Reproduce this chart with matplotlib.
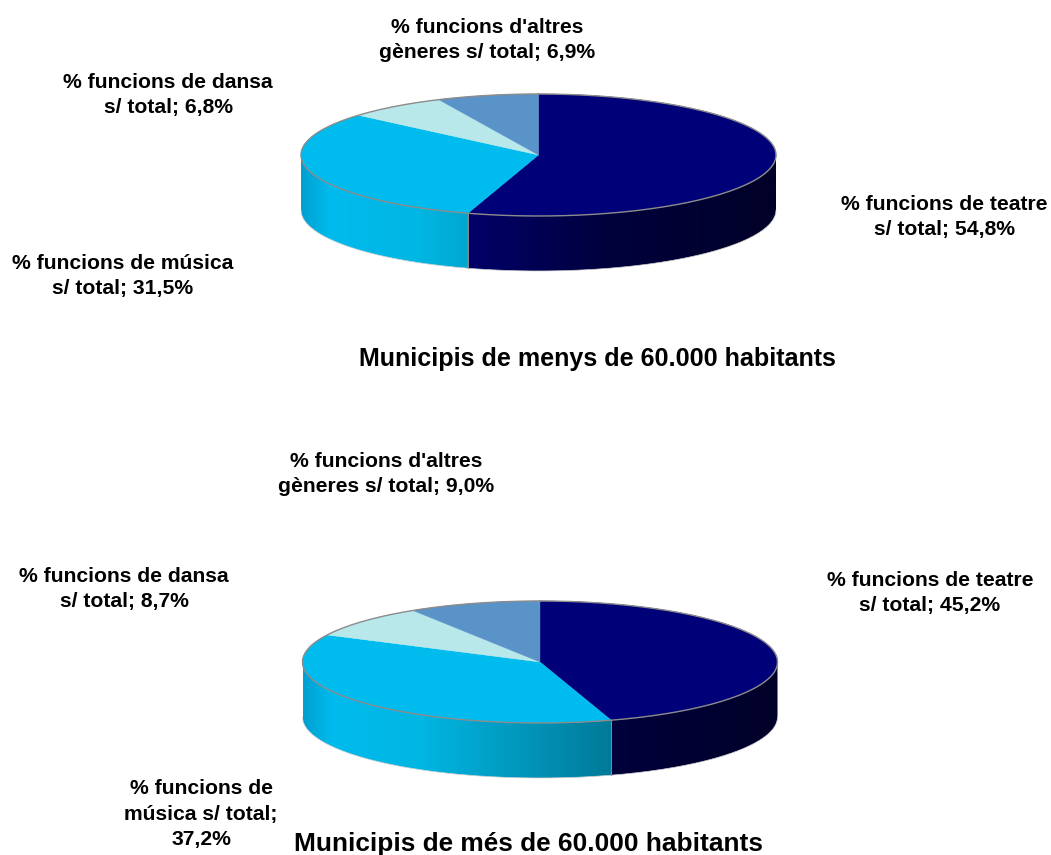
import numpy as np
import matplotlib
matplotlib.use("Agg")
import matplotlib.pyplot as plt
from matplotlib.colors import LinearSegmentedColormap
from matplotlib.patches import Polygon

plt.rcParams["font.family"] = ["Liberation Sans", "DejaVu Sans"]

# data
genres = ["teatre", "música", "dansa", "altres"]
small_towns = [54.8, 31.5, 6.8, 6.9]
big_towns = [45.2, 37.2, 8.7, 9.0]
title_small = "Municipis de menys de 60.000 habitants"
title_big = "Municipis de més de 60.000 habitants"
labels_small = [
    "% funcions de teatre\ns/ total; 54,8%",
    "% funcions de música\ns/ total; 31,5%",
    "% funcions de dansa\ns/ total; 6,8%",
    "% funcions d'altres\ngèneres s/ total; 6,9%",
]
labels_big = [
    "% funcions de teatre\ns/ total; 45,2%",
    "% funcions de\nmúsica s/ total;\n37,2%",
    "% funcions de dansa\ns/ total; 8,7%",
    "% funcions d'altres\ngèneres s/ total; 9,0%",
]

# styles
TOP = ["#000078", "#00BBEE", "#B9E8EA", "#5A93C8"]
SIDE = [
    [(0, "#00007C"), (0.35, "#00006A"), (0.65, "#00003C"), (1, "#000028")],
    [(0, "#00A0D0"), (0.06, "#00BBEE"), (0.25, "#00B6E2"), (0.65, "#007A98"), (1, "#005A70")],
    [(0, "#B9E8EA"), (1, "#B9E8EA")],
    [(0, "#5A93C8"), (1, "#5A93C8")],
]
EDGE = "#8C8C8C"
RX, RY, DEPTH = 237.5, 61, 55


def ring(cx, cy, a, b):
    # angles clockwise from 12 o'clock, in fractions of the pie
    t = 2 * np.pi * np.linspace(a, b, 200)
    return cx + RX * np.sin(t), cy - RY * np.cos(t)


def draw_pie(ax, cx, cy, values):
    ends = np.cumsum(values) / np.sum(values)
    starts = np.r_[0, ends[:-1]]

    # side wall first, only the front half of the disc shows
    for start, end, stops in zip(starts, ends, SIDE):
        a, b = max(start, 0.25), min(end, 0.75)
        if a >= b:
            continue
        x, y = ring(cx, cy, a, b)
        wall = Polygon(
            np.r_[np.c_[x, y], np.c_[x, y + DEPTH][::-1]],
            closed=True, fc="none", ec="none",
        )
        ax.add_patch(wall)
        cmap = LinearSegmentedColormap.from_list("side", stops)
        img = ax.imshow(
            np.linspace(0, 1, 256)[None, :], cmap=cmap, aspect="auto",
            extent=(cx - RX, cx + RX, cy + RY + DEPTH + 2, cy - 2), zorder=2,
        )
        img.set_clip_path(wall)

    # top of the disc
    for start, end, color in zip(starts, ends, TOP):
        x, y = ring(cx, cy, start, end)
        pts = np.r_[[[cx, cy]], np.c_[x, y]]
        ax.add_patch(Polygon(pts, closed=True, fc=color, ec=color, lw=0.3, zorder=3))

    # thin grey rims
    x, y = ring(cx, cy, 0, 1)
    ax.plot(x, y, color=EDGE, lw=1.0, zorder=4)
    x, y = ring(cx, cy, 0.25, 0.75)
    ax.plot(x, y + DEPTH, color="#D0D0D0", lw=0.5, zorder=4)
    for f in ends[:-1]:
        if 0.25 < f < 0.75:
            x, y = ring(cx, cy, f, f)
            ax.plot([x[0], x[0]], [y[0], y[0] + DEPTH], color=EDGE, lw=0.7, zorder=4)


fig = plt.figure(figsize=(10.51, 8.55), dpi=100)
ax = fig.add_axes([0, 0, 1, 1])

draw_pie(ax, 538.5, 155, small_towns)
draw_pie(ax, 540, 662, big_towns)

ax.set_xlim(0, 1051)
ax.set_ylim(855, 0)
ax.axis("off")

label_pos_small = [(944, 217), (123, 276), (168, 95), (487, 40)]
label_pos_big = [(930, 593), (201, 814), (124, 589), (386, 474)]
for text, (x, y) in zip(labels_small + labels_big, label_pos_small + label_pos_big):
    ax.text(x, y, text, ha="center", va="center", fontsize=15.2, fontweight="bold",
            color="black", linespacing=1.45)

ax.text(597.5, 359, title_small, ha="center", va="center", fontsize=18.1, fontweight="bold")
ax.text(528, 844, title_big, ha="center", va="center", fontsize=18.9, fontweight="bold")

fig.savefig("out.png", dpi=100)
